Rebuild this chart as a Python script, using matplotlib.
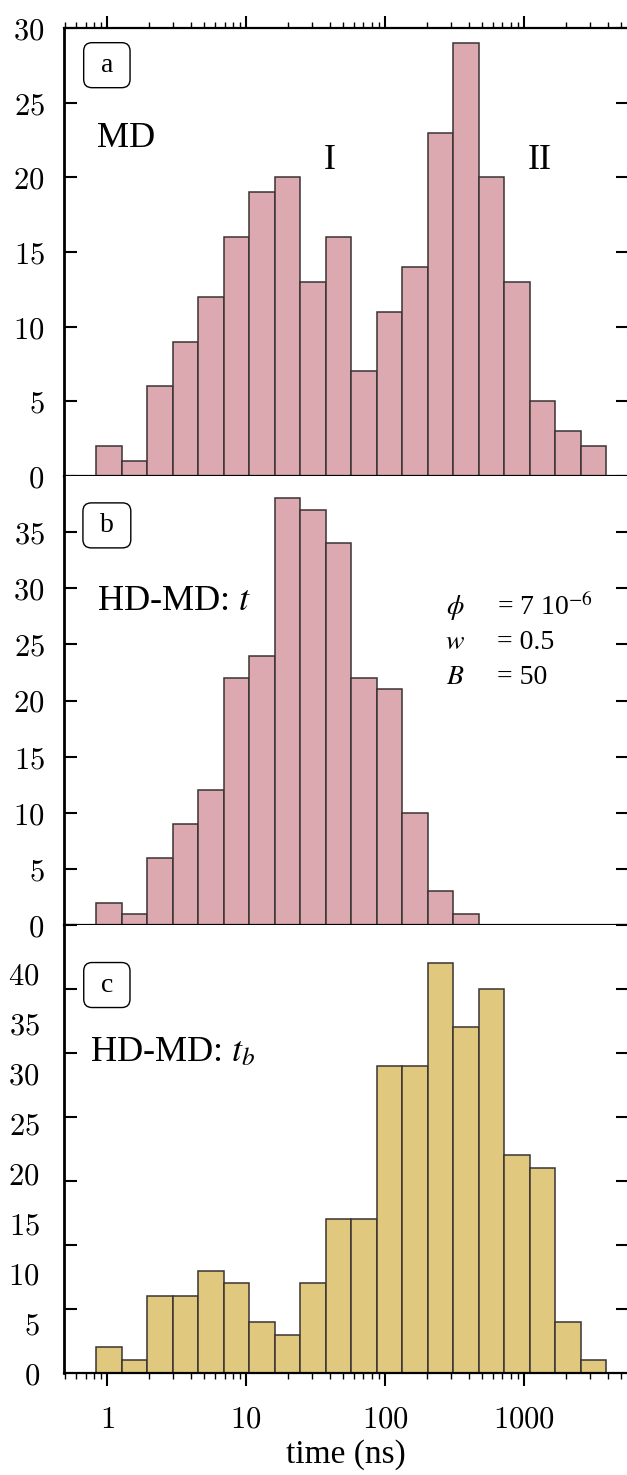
import numpy as np
import matplotlib
matplotlib.use('Agg')
import matplotlib.pyplot as plt

plt.rcParams['mathtext.fontset'] = 'cm'

# histogram data (counts per log-spaced bin)
log_edge_lo = -0.079
log_edge_hi = 3.591
n_bins = 20

counts_md = [2, 1, 6, 9, 12, 16, 19, 20, 13, 16, 7, 11, 14, 23, 29, 20, 13, 5, 3, 2]
counts_hdmd_t = [2, 1, 6, 9, 12, 22, 24, 38, 37, 34, 22, 21, 10, 3, 1, 0, 0, 0, 0, 0]
counts_hdmd_tb = [2, 1, 6, 6, 8, 7, 4, 3, 7, 12, 12, 24, 24, 32, 27, 30, 17, 16, 4, 1]

ymax_a, ymax_b, ymax_c = 30, 40, 35
ylabels_c = [0, 5, 10, 15, 20, 25, 30, 35, 40]
label_scale_c = 35 / 44.8   # labels of panel c sit on a different scale than its ticks

xlim = (0.49, 5600)
xticks = [1, 10, 100, 1000]

pink = '#dca9b1'
gold = '#e1c87f'
edge = '#3a3333'
serif = 'Liberation Serif'


def draw_hist(ax, counts, colour):
    edges = np.logspace(log_edge_lo, log_edge_hi, n_bins + 1)
    ax.bar(edges[:-1], counts, width=np.diff(edges), align='edge',
           color=colour, edgecolor=edge, linewidth=1.1)
    ax.set_xscale('log')
    ax.set_xlim(xlim)


def style_axis(ax, ymax, ticks, labels, label_pos=None):
    ax.set_ylim(0, ymax)
    ax.spines['right'].set_visible(False)
    ax.spines['left'].set_linewidth(2)
    ax.spines['bottom'].set_linewidth(1.6)
    ax.spines['top'].set_linewidth(1.6)
    if label_pos is None:
        ax.set_yticks(ticks, labels=[r'$%d$' % v for v in labels])
        ax.tick_params(axis='y', which='major', direction='in', left=True, right=True,
                       length=9, width=1.5, labelsize=22, pad=14)
    else:
        # tick marks and labels placed apart, as in the original figure
        ax.set_yticks(label_pos, labels=[r'$%d$' % v for v in labels])
        ax.set_yticks(ticks, minor=True)
        ax.tick_params(axis='y', which='major', left=False, right=False, labelsize=22, pad=14)
        ax.tick_params(axis='y', which='minor', direction='in', left=True, right=True,
                       length=9, width=1.5)
    ax.set_xticks(xticks, labels=[r'$%d$' % v for v in xticks])
    ax.tick_params(axis='x', which='major', direction='out', length=9, width=1.5,
                   labelsize=22, pad=14)
    ax.tick_params(axis='x', which='minor', direction='out', length=4, width=1.0)


def label_box(ax, letter, y):
    ax.text(0.076, y, ' ' + letter + ' ', transform=ax.transAxes, ha='center', va='center',
            fontsize=20, family=serif,
            bbox=dict(boxstyle='round,pad=0.36,rounding_size=0.3', fc='white',
                      ec='black', lw=1.0))


fig = plt.figure(figsize=(6.27, 14.75), dpi=100)
left = 64 / 627
width = 564 / 627
ax_a = fig.add_axes([left, 999 / 1475, width, 448 / 1475])
ax_b = fig.add_axes([left, 550 / 1475, width, 449 / 1475])
ax_c = fig.add_axes([left, 102 / 1475, width, 448 / 1475])

# a: MD
draw_hist(ax_a, counts_md, pink)
style_axis(ax_a, ymax_a, np.arange(0, ymax_a + 1, 5), np.arange(0, ymax_a + 1, 5))
ax_a.tick_params(axis='x', which='both', top=True, labelbottom=False)
label_box(ax_a, 'a', 0.917)
ax_a.text(0.058, 0.754, 'MD', transform=ax_a.transAxes, ha='left', va='center',
          fontsize=26, family=serif)
ax_a.text(0.472, 0.705, 'I', transform=ax_a.transAxes, ha='center', va='center',
          fontsize=26, family=serif)
ax_a.text(0.844, 0.705, 'II', transform=ax_a.transAxes, ha='center', va='center',
          fontsize=26, family=serif)

# b: HD-MD, time t
draw_hist(ax_b, counts_hdmd_t, pink)
style_axis(ax_b, ymax_b, np.arange(0, 36, 5), np.arange(0, 36, 5))
ax_b.tick_params(axis='x', which='both', labelbottom=False)
ax_b.spines['top'].set_visible(False)
label_box(ax_b, 'b', 0.89)
ax_b.text(0.058, 0.72, r'HD-MD: $t$', transform=ax_b.transAxes, ha='left', va='center',
          fontsize=26, family=serif, math_fontfamily='stix')
params = [(r'$\phi$', r'= 7 10$^{-6}$'), (r'$w$', '= 0.5'), (r'$B$', '= 50')]
for i, (sym, val) in enumerate(params):
    yy = 0.708 - i * 0.078
    ax_b.text(0.693, yy, sym, transform=ax_b.transAxes, ha='center', va='center',
              fontsize=20, family=serif, math_fontfamily='stix')
    ax_b.text(0.768, yy, val, transform=ax_b.transAxes, ha='left', va='center',
              fontsize=20, family=serif, math_fontfamily='stix')

# c: HD-MD, time t_b
draw_hist(ax_c, counts_hdmd_tb, gold)
style_axis(ax_c, ymax_c, np.arange(0, ymax_c + 1, 5), ylabels_c,
           label_pos=np.array(ylabels_c) * label_scale_c)
ax_c.spines['top'].set_visible(False)
label_box(ax_c, 'c', 0.866)
ax_c.text(0.046, 0.714, r'HD-MD: $t_b$', transform=ax_c.transAxes, ha='left', va='center',
          fontsize=26, family=serif, math_fontfamily='stix')
ax_c.set_xlabel('time (ns)', fontsize=24, family=serif, labelpad=4)

fig.savefig('out.png', dpi=100)
plt.close()
